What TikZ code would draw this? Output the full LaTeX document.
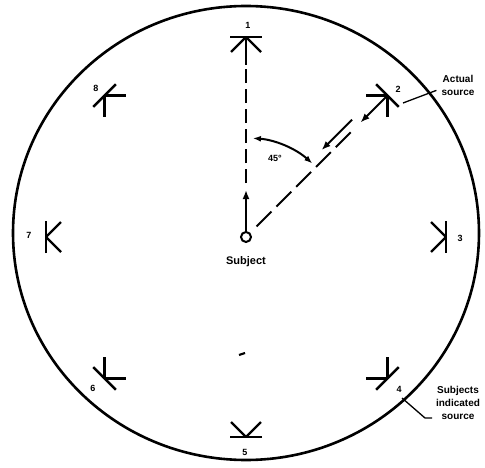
\documentclass[tikz,border=0pt]{standalone}
\usepackage{fontspec}
\setmainfont{Liberation Sans}
\usetikzlibrary{calc,arrows.meta}
\begin{document}
\begin{tikzpicture}[x=1pt,y=1pt,
  mk/.style={line width=2.4pt},
  lbl/.style={font=\fontsize{9}{10}\selectfont\bfseries, inner sep=0pt},
  ann/.style={font=\fontsize{10}{13}\selectfont\bfseries, align=center, inner sep=0pt},
  conn/.style={line width=2pt},
  dshv/.style={conn, dash pattern=on 14pt off 6pt},
  dshd/.style={conn, dash pattern=on 21pt off 7pt},
  tip/.style={-{Latex[length=9pt,width=7pt]}},
  leader/.style={line width=1.3pt},
  src/.pic={\draw[mk] (0,-16) -- (0,16); \draw[mk] (0,0) -- (15,15); \draw[mk] (0,0) -- (15,-15);}
]
\useasboundingbox (0,0) rectangle (485,467);
% outer circle
\draw[line width=2.6pt] (246,234) ellipse [x radius=233, y radius=227];
% subject
\coordinate (C) at (246,230);
\node[circle, draw, line width=2pt, minimum size=10pt, inner sep=0pt] (S) at (C) {};
\node[font=\fontsize{11}{12}\selectfont\bfseries, inner sep=0pt] (Slab) at (246,205) {Subject};
% source markers
\foreach \i/\a in {1/90,2/45,3/0,4/-45,5/-90,6/-135,7/180,8/135}{
  \coordinate (m\i) at ($(C)+(\a:200)$);
  \pic[rotate=\a+180] at (m\i) {src};
}
% marker numbers
\node[lbl] (n1) at (248,442) {1};
\node[lbl] (n2) at (398,378) {2};
\node[lbl] (n3) at (460,229) {3};
\node[lbl] (n4) at (399,78) {4};
\node[lbl] (n5) at (245,15) {5};
\node[lbl] (n6) at (93,79) {6};
\node[lbl] (n7) at (29,232) {7};
\node[lbl] (n8) at (96,379) {8};
% indicated direction (to source 1)
\draw[conn, tip] (S.north) -- ($(S)!47pt!(m1)$);
\draw[dshv] ($(S)!54pt!(m1)$) -- ($(m1)!28pt!(S)$);
\draw[mk] (m1) -- ($(m1)!28pt!(S)$);
% actual direction (to source 2)
\draw[conn, tip] (m2) -- ($(m2)!38pt!(S)$);
\draw[dshd] ($(S)!15pt!(m2)$) -- ($(m2)!50pt!(S)$);
\coordinate (o1) at ($(C)+(45:158)+(135:8)$);
\coordinate (o2) at ($(C)+(45:115)+(135:8)$);
\draw[conn, tip] (o1) -- (o2);
% 45 degree arc
\draw[conn, {Latex[length=8pt,width=6pt]}-{Latex[length=8pt,width=6pt]}] ($(C)+(48:99)$) arc[start angle=48, end angle=86, radius=99];
\node[font=\fontsize{9}{10}\selectfont\bfseries, inner sep=0pt] (ang) at (275,309) {45°};
% annotations
\node[ann] (act) at (458,382) {Actual\\source};
\coordinate (a1) at (403,364);
\draw[leader] (act.south west) ++(-5,5) -- (a1);
\node[ann] (ind) at (458,64) {Subjects\\indicated\\source};
\coordinate (b1) at (402,69);
\coordinate (b2) at (425,49);
\draw[leader] (b1) -- (b2) -- (432,49);
% small mark
\draw[line width=2.2pt] (239,112) -- (245,114);
\end{tikzpicture}
\end{document}
